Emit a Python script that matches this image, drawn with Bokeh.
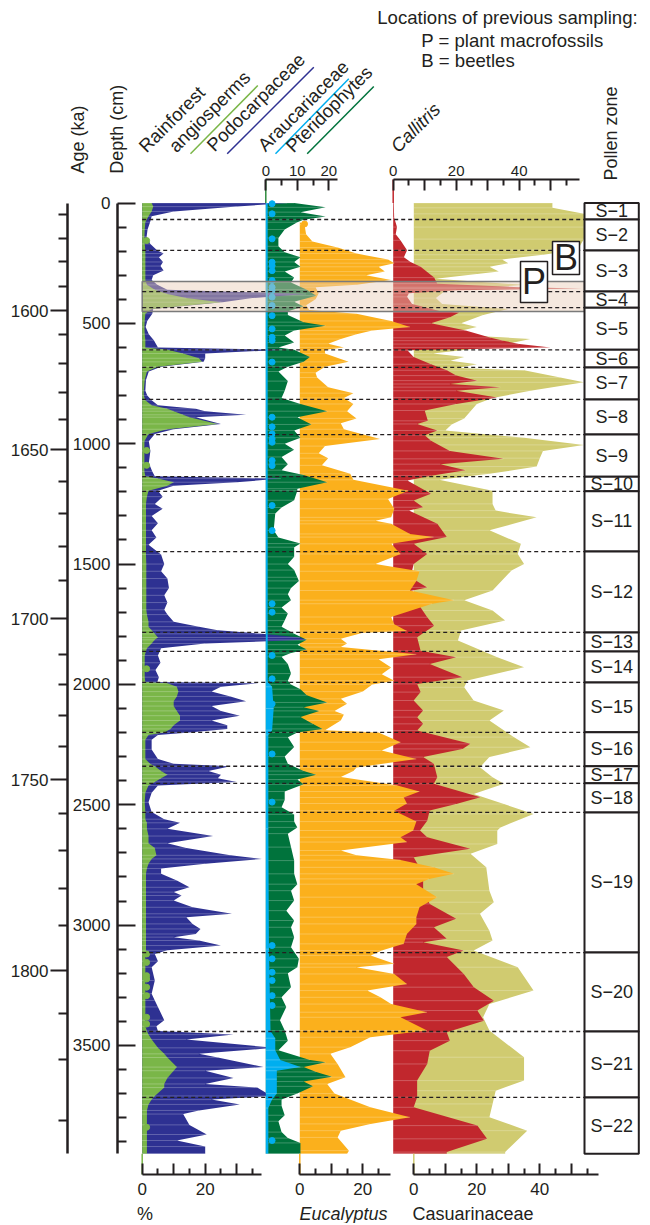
import numpy as np
from bokeh.plotting import figure
from bokeh.models import Range1d, LinearAxis, FixedTicker, Label
from bokeh.core.properties import value
from bokeh.embed import file_html
from bokeh.resources import INLINE

FONT = "Liberation Sans"
INK = "#231f20"

# ---------------- data ----------------
# Rainforest angiosperms (RA) and Podocarpaceae (PODO), same sample depths (cm)
P1_DEPTH = [0, 15, 35, 55, 80, 110, 140, 170, 197, 210, 225, 245, 262, 280, 300, 320, 340, 360, 378, 395,
            412, 440, 460, 490, 515, 545, 570, 600, 610, 625, 645, 660, 680, 700, 735, 780, 800, 820, 840, 855,
            865, 880, 890, 918, 940, 960, 990, 1030, 1080, 1115, 1135, 1145, 1160, 1175, 1195, 1220, 1250, 1270, 1300, 1330,
            1360, 1390, 1420, 1460, 1500, 1530, 1560, 1600, 1630, 1660, 1690, 1710, 1740, 1760, 1775, 1790, 1805, 1815, 1830, 1850,
            1880, 1910, 1940, 1970, 1990, 1995, 2010, 2030, 2050, 2070, 2090, 2110, 2130, 2150, 2170, 2185, 2200, 2210, 2230, 2270,
            2310, 2330, 2340, 2360, 2375, 2390, 2405, 2420, 2450, 2490, 2530, 2560, 2575, 2600, 2630, 2660, 2680, 2710, 2725, 2745,
            2765, 2787, 2815, 2843, 2863, 2877, 2898, 2926, 2953, 2967, 2995, 3016, 3037, 3050, 3064, 3085, 3105, 3120, 3150, 3175,
            3230, 3285, 3313, 3340, 3395, 3420, 3440, 3455, 3475, 3510, 3535, 3550, 3590, 3605, 3635, 3660, 3675, 3710, 3725, 3745,
            3770, 3785, 3830, 3870, 3895, 3920, 3950]
RA = [3, 3.5, 3, 2, 1, 0.8, 0.7, 0.8, 1, 1, 1, 1, 1, 1, 1, 1, 1.5, 4, 8, 14,
      25, 3, 1, 0.8, 0.7, 0.8, 1, 1, 8, 13, 18, 19, 5, 1.5, 0.8, 0.5, 0.5, 1, 3, 8,
      10, 13, 15, 24, 8, 2, 0.7, 0.7, 0.7, 0.7, 1, 5, 10, 8, 2, 1.5, 1.2, 1.2, 1.2, 1.2,
      1.2, 1.2, 1.2, 1.2, 1.3, 1.3, 1.3, 1.3, 1.3, 1.3, 1.3, 1.5, 2, 2, 3, 4, 5, 4, 3, 1.5,
      0.8, 0.8, 0.8, 0.8, 1, 8, 11, 11.5, 11, 10, 10, 11, 12, 12, 10, 9, 7, 2, 1, 1,
      1, 2.5, 4, 6, 8, 6, 4, 2, 1, 0.8, 1, 1, 1.5, 1.5, 2, 2, 4, 4.5, 3, 2,
      1.5, 1.2, 1.2, 1.2, 1.2, 1.2, 1.2, 1.2, 1.2, 1.2, 1.2, 1.2, 1.2, 1.2, 1.2, 1.2, 1.2, 1, 1, 1,
      1, 1, 1, 1, 1, 1, 1.5, 2, 3, 5, 7, 8, 11, 10, 8, 7, 7, 4, 3, 2,
      1.5, 1.5, 1.5, 1.5, 1.5, 1.5, 1.5]
PODO = [46, 30, 10, 3, 2.5, 1.7, 1.4, 2.6, 4.8, 6.8, 5.3, 6.6, 5.8, 6.8, 3.5, 3, 4.8, 8, 52, 35,
        25.5, 3.5, 3.2, 1.6, 1.1, 2.1, 3.7, 5, 45, 20, 20, 19.5, 6, 2.1, 1.2, 1, 1.6, 3, 5, 17,
        20, 33, 17, 25, 10, 4, 2.1, 2.6, 2.1, 3.2, 4, 44, 30, 10, 5, 6.5, 4, 6.5, 3, 5,
        3, 4.5, 2, 6, 7, 6, 8, 8.5, 7, 8, 7, 8, 10, 18, 24, 38, 50, 52, 20, 6,
        5, 5.8, 4.2, 5.3, 4.8, 37, 25, 22, 28, 33, 22, 25, 31, 22, 27, 27, 15, 5, 3, 3,
        5, 10, 28, 21, 25, 24, 30, 5, 3, 2, 3, 7, 12, 8, 22.5, 8, 14, 28, 38, 20,
        6, 6, 11, 15, 10, 12.5, 10, 16, 28.5, 14, 16, 18.5, 17, 10, 18, 25, 8, 4, 5, 3,
        4, 3, 4, 5, 7, 4.5, 5, 29, 14, 42, 18, 24, 38.5, 20, 29, 20, 36.5, 41, 22, 31,
        18, 13, 15, 20.5, 11, 20, 20]

# Pteridophytes (outer edge, stacked on Araucariaceae)
PTER_DEPTH = [0, 18, 38, 56, 70, 80, 110, 145, 180, 205, 225, 245, 265, 285, 310, 330, 360, 385, 410, 430,
              450, 465, 495, 510, 530, 550, 580, 600, 610, 640, 660, 680, 700, 740, 780, 810, 835, 865, 890, 920,
              945, 975, 1000, 1025, 1055, 1085, 1110, 1130, 1160, 1187, 1195, 1235, 1265, 1290, 1360, 1390, 1415, 1430, 1470, 1500,
              1525, 1555, 1570, 1600, 1625, 1650, 1680, 1705, 1735, 1760, 1775, 1790, 1815, 1835, 1855, 1870, 1885, 1915, 1955, 1985,
              2000, 2020, 2045, 2075, 2095, 2110, 2135, 2165, 2185, 2200, 2220, 2260, 2300, 2330, 2360, 2375, 2395, 2415, 2445, 2480,
              2510, 2540, 2570, 2594, 2620, 2676, 2732, 2787, 2830, 2857, 2898, 2940, 2981, 3009, 3050, 3092, 3140, 3175, 3200, 3258,
              3300, 3340, 3395, 3438, 3480, 3520, 3560, 3570, 3590, 3610, 3630, 3650, 3670, 3700, 3725, 3750, 3790, 3815, 3860, 3885,
              3905, 3950]
PTER = [9, 19, 11, 19, 12, 10, 6, 4, 4, 6, 11, 9, 11, 6, 9, 8, 13, 16, 9, 12,
        7, 7, 12, 19, 9, 6, 9, 4, 9, 14, 12, 7, 4, 7, 6, 5, 11, 19.5, 10, 14.5,
        9, 11, 6, 9, 5, 7, 5, 12, 19.5, 10, 10, 9, 5, 3, 2.5, 4, 11, 9, 9, 7,
        9, 10, 10.5, 8, 7, 8, 5, 7, 6, 5, 7, 9, 13, 10, 13, 8, 5, 7, 8, 7,
        8, 11, 13, 19.5, 12, 17, 11, 15, 18, 10, 7, 9, 6, 7, 12, 16, 10, 12, 6, 6,
        5, 9, 9, 10, 7, 8, 9, 9, 10, 8, 9, 6.5, 9, 8, 9, 8, 10.5, 10, 7, 8,
        5, 6.5, 4.5, 6, 7, 4, 14, 19, 12, 16, 21, 12, 15, 10, 5, 5, 6, 4, 5, 7,
        11, 11]

ARAU_DEPTH = [0, 1990, 2010, 2100, 2190, 2210, 2600, 3100, 3440, 3470, 3520, 3560, 3590, 3605, 3640, 3700, 3725, 3760, 3950]
ARAU = [0.6, 0.6, 2, 2.5, 2, 0.8, 0.8, 1, 1.5, 3, 3, 4.6, 11, 3.5, 3.5, 3.5, 2, 0.8, 0.8]

EUC_DEPTH = [80, 90, 130, 160, 185, 210, 235, 250, 265, 285, 300, 320, 340, 350, 375, 400, 425, 445, 460, 490,
             515, 530, 545, 565, 585, 600, 610, 625, 660, 680, 705, 725, 765, 790, 810, 835, 865, 895, 915, 940,
             980, 1010, 1040, 1060, 1090, 1125, 1150, 1195, 1230, 1270, 1306, 1320, 1333, 1375, 1388, 1416, 1458, 1500, 1530, 1570,
             1610, 1650, 1665, 1720, 1750, 1778, 1785, 1810, 1830, 1845, 1875, 1895, 1930, 1958, 1985, 2000, 2030, 2060, 2080, 2110,
             2125, 2150, 2190, 2200, 2240, 2275, 2310, 2345, 2360, 2385, 2420, 2445, 2470, 2495, 2525, 2570, 2607, 2635, 2655, 2690,
             2710, 2730, 2760, 2787, 2808, 2830, 2884, 2926, 2967, 2995, 3037, 3078, 3106, 3126, 3161, 3175, 3203, 3245, 3272, 3300,
             3328, 3362, 3383, 3438, 3466, 3507, 3535, 3577, 3632, 3660, 3700, 3757, 3798, 3826, 3854, 3882, 3937, 3950]
EUC = [0, 1.5, 2, 4, 12, 18, 28, 30, 25, 27, 21, 29, 18, 5, 6, 5, 2, 3, 18, 29,
       35, 23, 18, 13, 9, 14, 8, 8, 15.5, 8, 5, 5.5, 9, 17, 14, 17, 15, 18, 13, 14,
       25.5, 8, 6, 9, 7, 16, 17, 34.5, 28, 30, 29, 24, 29, 35, 42.5, 29, 32, 24, 38, 37,
       35, 49, 42, 29, 30, 34, 20, 13, 15, 13, 37, 25, 29, 26, 30, 23, 20, 13, 15, 11,
       14, 13, 8, 25, 32, 26, 37, 18, 17, 13, 31, 38, 33, 34, 30, 37, 36, 32, 34, 13,
       18, 32, 42.5, 49, 41, 37, 43.6, 38, 37, 37, 34, 33, 26, 22.5, 30, 18, 30, 34, 21.4, 25.6,
       29, 40.4, 32, 40.4, 22.4, 16, 9.7, 12, 14.5, 8.7, 11, 22.4, 35, 22.4, 13, 12, 15.6, 15]

CAL_DEPTH = [0, 60, 100, 130, 155, 196, 225, 245, 265, 310, 335, 350, 355, 362, 375, 390, 420, 450, 455, 475,
             500, 530, 560, 572, 586, 600, 612, 640, 670, 695, 717, 738, 752, 765, 780, 808, 835, 862, 905, 918,
             945, 965, 988, 1030, 1063, 1085, 1110, 1133, 1153, 1208, 1236, 1264, 1278, 1333, 1388, 1416, 1458, 1500, 1555, 1597,
             1617, 1638, 1721, 1756, 1804, 1860, 1887, 1915, 1970, 1998, 2032, 2067, 2108, 2136, 2164, 2192, 2247, 2268, 2302, 2330,
             2386, 2413, 2469, 2497, 2524, 2566, 2607, 2635, 2683, 2718, 2787, 2857, 2912, 2974, 3009, 3057, 3071, 3106, 3133, 3203,
             3258, 3314, 3355, 3397, 3445, 3480, 3522, 3577, 3646, 3715, 3757, 3833, 3888, 3943, 3950]
CAL = [0.2, 0.3, 1.2, 0.8, 2.3, 4.4, 3.4, 5.5, 8.7, 13, 14, 40, 60, 20, 5, 4.4, 6, 15, 21, 18,
       12, 23, 31, 35, 40, 50, 4.5, 6.5, 12, 17, 20, 26.7, 18, 34, 20, 33, 20, 10, 11, 7.6,
       14, 10, 12, 18, 35, 15, 23, 12, 4.5, 12, 6.5, 9.5, 5, 14, 17, 6.5, 10.8, 6.5, 5.5, 10.8,
       3.4, 6.5, 10.8, 13, 7.6, 8.7, 20, 11.6, 22, 7.6, 8.7, 6.5, 9.5, 7.6, 9.5, 7.6, 24.5, 22, 9.5, 12.9,
       14, 12.9, 27.7, 20, 11.6, 10.8, 8.5, 10.8, 24.5, 6.5, 9.5, 9.5, 11.6, 20, 12.9, 17, 9.5, 22.4, 17, 22.4,
       25.6, 32, 26.7, 28.8, 17, 18, 11.6, 10.8, 7.6, 7.6, 6.5, 26.7, 29.8, 17, 17]

CAS_DEPTH = [0, 20, 45, 100, 150, 195, 215, 235, 250, 265, 285, 295, 315, 340, 365, 395, 420, 440, 465, 500,
             515, 545, 565, 590, 605, 625, 640, 655, 670, 685, 695, 725, 745, 780, 810, 835, 865, 895, 920, 945,
             975, 1005, 1030, 1060, 1095, 1125, 1150, 1195, 1250, 1278, 1306, 1360, 1416, 1458, 1500, 1527, 1610, 1650, 1693, 1735,
             1776, 1818, 1887, 1929, 1984, 2012, 2067, 2108, 2150, 2219, 2261, 2302, 2344, 2386, 2413, 2455, 2497, 2538, 2594, 2607,
             2663, 2704, 2760, 2857, 2905, 2953, 3023, 3064, 3106, 3175, 3272, 3328, 3383, 3438, 3549, 3646, 3688, 3743, 3798, 3854,
             3943, 3950]
CAS = [44, 44, 54, 54, 54, 52, 41, 28, 30, 24, 27, 20, 7, 35, 10, 7, 9, 30, 22, 15,
       20, 10, 37, 28, 20, 6, 16, 11.6, 20, 14, 35, 46.5, 54, 37, 25, 20, 18, 16, 12, 10,
       35, 54, 41, 40, 39, 24, 8, 25, 25, 26, 39, 24, 34, 33, 35, 31, 25, 16, 25, 29,
       15, 14, 26.5, 35, 17, 16, 19, 28.6, 24, 31.7, 37, 24, 21, 25, 28.6, 19, 28.6, 38, 27.5, 26.5,
       26.5, 18, 23, 24, 25.4, 21, 24, 25, 19, 33, 38, 24, 22, 24, 35, 35, 26, 25, 24, 36,
       29, 29]

# presence markers
RA_DOTS = [156, 1028, 1090, 1935, 3120, 3155, 3210, 3224, 3258, 3293, 3383, 3411, 3840]
ARAU_DOTS = [3, 45, 149, 246, 260, 281, 322, 350, 364, 391, 426, 468, 523, 558, 571, 661, 890, 930, 959, 980,
             994, 1070, 1091, 1257, 1361, 1665, 1700, 1880, 1977, 2081, 2289, 2489, 3085, 3140, 3196, 3230, 3293, 3334, 3895]
EUC_DOTS = [87]

# pollen zones: boundaries (cm) and names
ZONE_EDGES = [0, 68.5, 197, 368, 435, 610, 683, 816, 962, 1137, 1198, 1448, 1784, 1863, 1992, 2199, 2340, 2411,
              2532, 3114, 3442, 3716, 3950]
ZONE_NAMES = ["S\u2212%d" % i for i in range(1, 23)]

AGE_TICKS = [1560, 1570, 1580, 1590, 1600, 1610, 1620, 1630, 1640, 1650, 1660, 1670, 1680, 1690,
             1700, 1710, 1720, 1730, 1740, 1750, 1760, 1770, 1780, 1790, 1800, 1810, 1820, 1830]
AGE_DEPTHS = [49, 146, 243, 346, 447, 546, 668, 786, 901, 1025, 1156, 1289, 1427, 1568,
              1728, 1877, 2000, 2129, 2257, 2396, 2538, 2690, 2847, 3002, 3189, 3366, 3560, 3812]

BAND = (326, 451)          # previous sampling interval (cm)
P_BOX = (243, 413)
B_BOX = (160, 297)

# ---------------- layout (screen px) ----------------
W, H = 648, 1223
Y0, K, PXP = 202.5, 0.2407, 3.15     # y of depth 0, px per cm, px per percent


def dep(ly):
    return (ly - Y0) / K


p = figure(width=W, height=H, output_backend="svg", toolbar_location=None,
           x_axis_type=None, y_axis_type=None, min_border=0,
           x_range=Range1d(0, W), y_range=Range1d(dep(H), dep(0)),
           outline_line_color=None, background_fill_color="white")
if p.title is not None:
    p.title.visible = False

BASE = dict(p1=141.7, p2=265.3, euc=299.3, cal=392.7, cas=413.3)
p.extra_x_ranges = {k: Range1d(-b / PXP, (W - b) / PXP) for k, b in BASE.items()}
p.extra_y_ranges = {"lay": Range1d(H, 0)}

C_RA, C_PODO, C_ARAU, C_PTER = "#7ab648", "#2e3192", "#00aeef", "#00733c"
C_EUC, C_CAL, C_CAS = "#fbb01c", "#c1272d", "#d0cb70"


def area(depths, vals, rng, color):
    d = np.asarray(depths, float)
    v = np.asarray(vals, float)
    p.harea(x1=np.zeros_like(v), x2=v, y=d, x_range_name=rng, fill_color=color)
    # faint sample lines
    p.segment(x0=np.zeros_like(v), x1=v, y0=d, y1=d, x_range_name=rng,
              line_color="white", line_alpha=0.3, line_width=0.8)


area(CAS_DEPTH, CAS, "cas", C_CAS)
area(CAL_DEPTH, CAL, "cal", C_CAL)
area(EUC_DEPTH, EUC, "euc", C_EUC)
area(PTER_DEPTH, PTER, "p2", C_PTER)
area(P1_DEPTH, PODO, "p1", C_PODO)
area(P1_DEPTH, RA, "p1", C_RA)
area(ARAU_DEPTH, ARAU, "p2", C_ARAU)

p.scatter(x=[1.4] * len(RA_DOTS), y=RA_DOTS, size=6, color=C_RA, x_range_name="p1")
p.scatter(x=[2.0] * len(ARAU_DOTS), y=ARAU_DOTS, size=6, color=C_ARAU, x_range_name="p2")
p.scatter(x=[1.5] * len(EUC_DOTS), y=EUC_DOTS, size=6, color=C_EUC, x_range_name="euc")

# sampling band
X_L, X_Z0, X_Z1 = 141.7, 584.0, 638.3
p.quad(left=X_L, right=X_Z0, top=BAND[0], bottom=BAND[1], fill_color="#e8cdb5", fill_alpha=0.45,
       line_color="#7a7a7a", line_width=1.5)

# zone boundaries
inner = ZONE_EDGES[1:-1]
p.segment(x0=[X_L] * len(inner), x1=[X_Z0] * len(inner), y0=inner, y1=inner,
          line_color=INK, line_width=1.3, line_dash="4 3")

# zone boxes
p.quad(left=X_Z0, right=X_Z1, top=ZONE_EDGES[:-1], bottom=ZONE_EDGES[1:], fill_color="white",
       line_color=INK, line_width=2)
mids = [(a + b) / 2 for a, b in zip(ZONE_EDGES[:-1], ZONE_EDGES[1:])]
p.text(x=[(X_Z0 + X_Z1) / 2] * len(mids), y=mids, text=ZONE_NAMES, text_align="center",
       text_baseline="middle", text_font=value(FONT), text_font_size="18px", text_color=INK)

# P / B boxes
p.quad(left=[520, 552], right=[547, 579], top=[P_BOX[0], B_BOX[0]], bottom=[P_BOX[1], B_BOX[1]],
       fill_color="white", line_color=INK, line_width=1.5)
p.text(x=[533.5, 565.5], y=[sum(P_BOX) / 2, sum(B_BOX) / 2], text=["P", "B"], text_align="center",
       text_baseline="middle", text_font=value(FONT), text_font_size="36px", text_color=INK)

# baseline stubs between data and axes
top_axis_d, bot_axis_d = dep(179), dep(1174)
p.segment(x0=[0], x1=[0], y0=[top_axis_d], y1=[0], x_range_name="p2", line_color="#2e8b3e", line_width=1.5)
p.segment(x0=[0], x1=[0], y0=[top_axis_d], y1=[0], x_range_name="cal", line_color=C_CAL, line_width=1.5)
p.segment(x0=[0], x1=[0], y0=[3950], y1=[bot_axis_d], x_range_name="p1", line_color=C_RA, line_width=1.5)
p.segment(x0=[0], x1=[0], y0=[3950], y1=[bot_axis_d], x_range_name="euc", line_color=C_EUC, line_width=1.5)
p.segment(x0=[0], x1=[0], y0=[3950], y1=[bot_axis_d], x_range_name="cas", line_color=C_CAS, line_width=1.5)

# header underlines
p.segment(x0=[190, 226.7, 275, 306.7], y0=[153.3] * 4, x1=[257.3, 313.3, 348.3, 373.3], y1=[85, 66.7, 78.3, 86],
          y_range_name="lay", line_color=[C_RA, C_PODO, C_ARAU, C_PTER], line_width=1.5)


# ---------------- axes ----------------
def style(ax, size, standoff, lw=2):
    ax.axis_line_color = INK
    ax.major_tick_line_color = INK
    ax.minor_tick_line_color = INK
    ax.axis_line_width = lw
    ax.major_tick_line_width = 2
    ax.minor_tick_line_width = 2
    ax.major_label_text_font = FONT
    ax.major_label_text_font_size = size
    ax.major_label_text_color = INK
    ax.major_label_standoff = standoff


age_major = [d for a, d in zip(AGE_TICKS, AGE_DEPTHS) if a % 50 == 0]
age_minor = [d for a, d in zip(AGE_TICKS, AGE_DEPTHS) if a % 50 != 0]
age_ax = LinearAxis(fixed_location=67, ticker=FixedTicker(ticks=age_major, minor_ticks=age_minor), bounds=(0, 3950))
age_ax.major_label_overrides = {d: str(a) for a, d in zip(AGE_TICKS, AGE_DEPTHS) if a % 50 == 0}
age_ax.major_tick_out, age_ax.major_tick_in = 17, 0
age_ax.minor_tick_out, age_ax.minor_tick_in = 9, 0
style(age_ax, "17px", 2, 2.5)
p.add_layout(age_ax, "left")

depth_ax = LinearAxis(fixed_location=117, bounds=(0, 3950),
                      ticker=FixedTicker(ticks=list(range(0, 3501, 500)),
                                         minor_ticks=[d for d in range(100, 3901, 100) if d % 500]))
depth_ax.major_tick_out, depth_ax.major_tick_in = 0, 18
depth_ax.minor_tick_out, depth_ax.minor_tick_in = 0, 9
style(depth_ax, "17px", 7, 2.5)
p.add_layout(depth_ax, "left")


def panel_axis(rng, side, loc, majors, minors, hi, blank, size, standoff):
    ax = LinearAxis(x_range_name=rng, fixed_location=loc, bounds=(0, hi),
                    ticker=FixedTicker(ticks=majors, minor_ticks=minors))
    ax.major_tick_out, ax.major_tick_in = 0, 11
    ax.minor_tick_out, ax.minor_tick_in = 0, 6
    if blank:
        ax.major_label_overrides = {b: "" for b in blank}
    style(ax, size, standoff)
    p.add_layout(ax, side)


panel_axis("p2", "above", top_axis_d, [0, 10, 20], [5, 15], 22.9, [], "15px", 4)
panel_axis("cal", "above", top_axis_d, [0, 10, 20, 30, 40, 50], [5, 15, 25, 35, 45, 55], 59, [10, 30, 50], "15px", 4)
panel_axis("p1", "below", bot_axis_d, [0, 10, 20, 30], [5, 15, 25, 35], 38, [10, 30], "17px", 8)
panel_axis("euc", "below", bot_axis_d, [0, 10, 20], [5, 15, 25], 28.8, [10], "17px", 8)
panel_axis("cas", "below", bot_axis_d, [0, 10, 20, 30, 40, 50], [5, 15, 25, 35, 45, 55], 58.6, [10, 30, 50], "17px", 8)


# ---------------- texts (anchor = start of the text's centre line) ----------------
def lab(x, y, t, size="18px", angle=0, style="normal"):
    p.add_layout(Label(x=x, y=y, y_range_name="lay", text=t, angle=angle, angle_units="deg",
                       text_font=FONT, text_font_size=size, text_color=INK, text_font_style=style,
                       text_align="left", text_baseline="middle"))


lab(77.5, 173, "Age (ka)", angle=90)
lab(116.5, 173.3, "Depth (cm)", angle=90)
lab(610, 180, "Pollen zone", angle=90)
lab(141.5, 148.5, "Rainforest", "18.5px", 45)
lab(171.5, 148.5, "angiosperms", "18.5px", 45)
lab(209.5, 147.5, "Podocarpaceae", "18.5px", 45)
lab(260.5, 147.5, "Araucariaceae", "18.5px", 45)
lab(288.5, 148.5, "Pteridophytes", "18.5px", 45)
lab(393.5, 148.5, "Callitris", "18.5px", 45, "italic")
lab(376.7, 17, "Locations of previous sampling:", "18.6px")
lab(420.7, 40, "P = plant macrofossils", "18.6px")
lab(420.7, 60, "B = beetles", "18.6px")
lab(136.6, 1213, "%")
lab(299, 1213, "Eucalyptus", style="italic")
lab(412, 1213, "Casuarinaceae")

open("out.html", "w").write(file_html(p, INLINE))
